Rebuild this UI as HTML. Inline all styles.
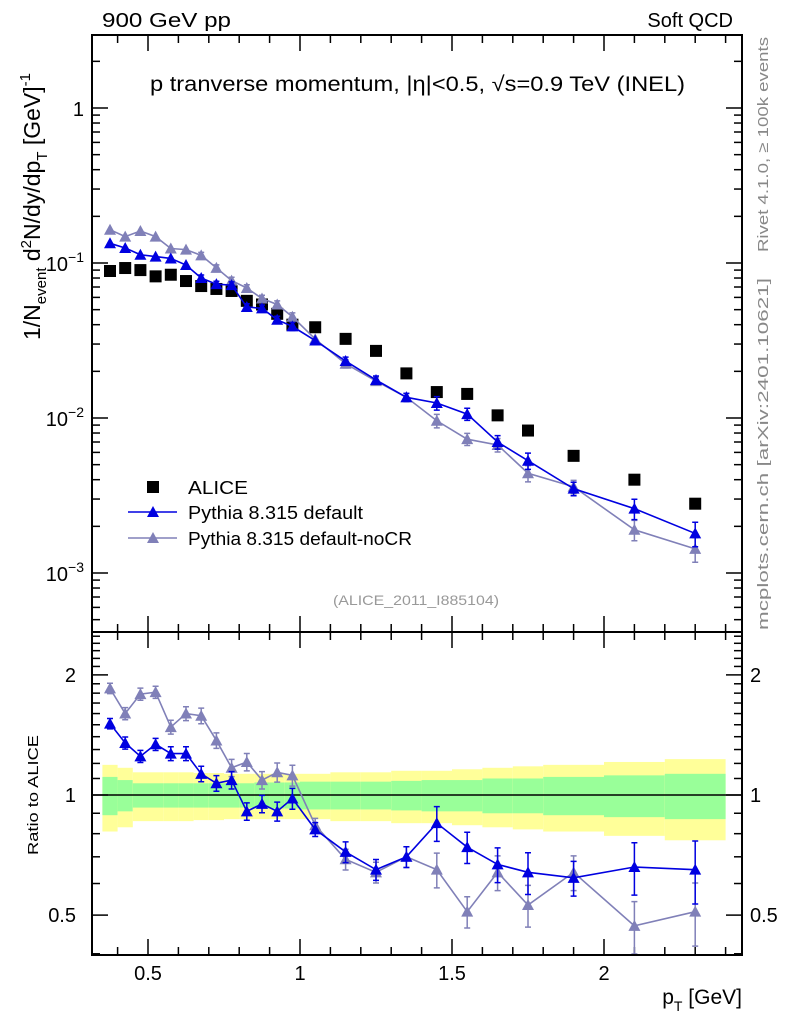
<!DOCTYPE html>
<html><head><meta charset="utf-8">
<style>
html,body{margin:0;padding:0;background:#fff;}
svg{display:block;font-family:"Liberation Sans","DejaVu Sans",sans-serif;}
</style></head>
<body>
<svg id="chart" width="786" height="1024" viewBox="0 0 786 1024" xmlns="http://www.w3.org/2000/svg">
<text x="102" y="27" font-size="20" textLength="129" lengthAdjust="spacingAndGlyphs">900 GeV pp</text>
<text x="733" y="27" font-size="20" text-anchor="end">Soft QCD</text>
<text x="150" y="91" font-size="21" textLength="535" lengthAdjust="spacingAndGlyphs">p tranverse momentum, |η|&lt;0.5, √s=0.9 TeV (INEL)</text>
<text x="333" y="605" font-size="14" fill="#999" textLength="166" lengthAdjust="spacingAndGlyphs">(ALICE_2011_I885104)</text>
<text transform="translate(768,252) rotate(-90)" font-size="15" fill="#888" textLength="215" lengthAdjust="spacingAndGlyphs">Rivet 4.1.0, ≥ 100k events</text>
<text transform="translate(768,630) rotate(-90)" font-size="15" fill="#888" textLength="352" lengthAdjust="spacingAndGlyphs">mcplots.cern.ch [arXiv:2401.10621]</text>
<text transform="translate(40,340) rotate(-90)" font-size="23">1/N<tspan font-size="15" dy="6">event</tspan><tspan dy="-6"> d</tspan><tspan font-size="15" dy="-9">2</tspan><tspan dy="9">N/dy/dp</tspan><tspan font-size="15" dy="7">T</tspan><tspan dy="-7"> [GeV]</tspan><tspan font-size="15" dy="-10">-1</tspan></text>
<text transform="translate(38,855) rotate(-90)" font-size="15" textLength="120" lengthAdjust="spacingAndGlyphs">Ratio to ALICE</text>
<text x="742" y="1004" font-size="21" text-anchor="end">p<tspan font-size="14" dy="7">T</tspan><tspan dy="-7"> [GeV]</tspan></text>
<g id="bands"></g>
<g id="ticks"></g>
<g id="marks"></g>
<g id="legend"></g>
<rect x="92" y="35" width="650" height="597" fill="none" stroke="#000" stroke-width="2"/>
<rect x="92" y="632" width="650" height="323" fill="none" stroke="#000" stroke-width="2"/>
</svg>
<script>
const xCenters=[0.375,0.425,0.475,0.525,0.575,0.625,0.675,0.725,0.775,0.825,0.875,0.925,0.975,1.05,1.15,1.25,1.35,1.45,1.55,1.65,1.75,1.9,2.1,2.3];
const binEdges=[0.35,0.4,0.45,0.5,0.55,0.6,0.65,0.7,0.75,0.8,0.85,0.9,0.95,1.0,1.1,1.2,1.3,1.4,1.5,1.6,1.7,1.8,2.0,2.2,2.4];
const alice=[0.0888,0.0928,0.090,0.082,0.084,0.0765,0.071,0.068,0.066,0.057,0.054,0.047,0.040,0.0385,0.0324,0.0271,0.0194,0.0147,0.0143,0.0104,0.0083,0.0057,0.0040,0.0028];
const pyDefault=[0.134,0.125,0.113,0.110,0.107,0.097,0.080,0.073,0.072,0.052,0.051,0.043,0.039,0.0316,0.0233,0.0176,0.0136,0.0125,0.0106,0.0070,0.0053,0.0035,0.0026,0.0018];
const pyNoCR=[0.164,0.148,0.161,0.148,0.124,0.122,0.112,0.093,0.077,0.069,0.059,0.054,0.045,0.0323,0.0224,0.0173,0.0136,0.0096,0.0073,0.0067,0.0044,0.0036,0.0019,0.00143];
const ratioDefault=[1.51,1.35,1.25,1.34,1.27,1.27,1.13,1.07,1.09,0.91,0.95,0.91,0.98,0.82,0.72,0.65,0.70,0.85,0.74,0.67,0.64,0.62,0.66,0.65];
const ratioNoCR=[1.85,1.60,1.79,1.81,1.48,1.60,1.58,1.37,1.17,1.21,1.09,1.14,1.12,0.84,0.69,0.64,0.70,0.65,0.51,0.64,0.53,0.64,0.47,0.51];
const mcRelErr=[0.03,0.035,0.035,0.035,0.04,0.04,0.045,0.045,0.05,0.05,0.05,0.055,0.06,0.04,0.06,0.06,0.06,0.1,0.09,0.1,0.12,0.1,0.15,0.18];
const totErr=[0.19,0.17,0.14,0.14,0.14,0.14,0.135,0.135,0.13,0.13,0.13,0.13,0.13,0.13,0.14,0.14,0.15,0.15,0.16,0.17,0.18,0.19,0.21,0.23];
const statErr=[0.11,0.09,0.07,0.07,0.07,0.07,0.07,0.07,0.07,0.07,0.075,0.075,0.075,0.08,0.08,0.08,0.085,0.09,0.09,0.1,0.1,0.11,0.12,0.13];
const mainTickLabels=["1","10","10","10"], mainTickExp=["","−1","−2","−3"], mainTickVals=[1,0.1,0.01,0.001];
const ratioTickVals=[2,1,0.5], ratioTickLabels=["2","1","0.5"];
const xTickVals=[0.5,1,1.5,2], xTickLabels=["0.5","1","1.5","2"];

const NS="http://www.w3.org/2000/svg";
const X=v=>300+(v-1)*304;
const Y=v=>108-Math.log10(v)*155;
const R=v=>795-Math.log10(v)*399;
function el(parent,tag,attrs){const e=document.createElementNS(NS,tag);for(const k in attrs)e.setAttribute(k,attrs[k]);document.getElementById(parent).appendChild(e);return e;}

for(let i=0;i<xCenters.length;i++){
  const x0=Math.max(X(binEdges[i]),93),x1=Math.min(X(binEdges[i+1]),741);
  let b=el('bands','rect',{x:x0,y:R(1+totErr[i]),width:x1-x0,height:R(1-totErr[i])-R(1+totErr[i]),fill:'#ffff99'});
  
  
  let g=el('bands','rect',{x:x0,y:R(1+statErr[i]),width:x1-x0,height:R(1-statErr[i])-R(1+statErr[i]),fill:'#99ff99'});
  
  
}
let ref=el('bands','line',{x1:92,x2:742,y1:R(1),y2:R(1),stroke:'#000','stroke-width':1.5});



function tk(x1,y1,x2,y2){const t=el('ticks','line',{x1,y1,x2,y2,stroke:'#000','stroke-width':1.5});}
for(let v=0.4;v<2.45;v+=0.1){const x=X(v);const major=Math.abs(v*2-Math.round(v*2))<1e-6;const L=major?16:8;
  tk(x,955,x,955-L);tk(x,632,x,632+L);tk(x,632,x,632-L);tk(x,35,x,35+L);}
for(let d=-4;d<1;d++){for(let m=1;m<10;m++){const v=m*Math.pow(10,d);const y=Y(v);if(y<36||y>631)continue;const L=m==1?16:8;tk(92,y,92+L,y);tk(742,y,742-L,y);}}
for(let v=0.4;v<2.6;v+=0.1){const y=R(v);if(y<633||y>954)continue;const major=[0.5,1,2].some(a=>Math.abs(a-v)<1e-6);const L=major?16:8;tk(92,y,92+L,y);tk(742,y,742-L,y);}
mainTickVals.forEach((v,i)=>{const t=el('ticks','text',{x:84,y:Y(v)+8,'font-size':20,'text-anchor':'end'});t.textContent=mainTickLabels[i];
  
  if(mainTickExp[i]){const s=document.createElementNS(NS,'tspan');s.setAttribute('font-size',14);s.setAttribute('dy',-9);s.textContent=mainTickExp[i];t.appendChild(s);}});
ratioTickVals.forEach((v,i)=>{const t=el('ticks','text',{x:76,y:R(v)+7,'font-size':20,'text-anchor':'end'});t.textContent=ratioTickLabels[i];
  
  const t2=el('ticks','text',{x:750,y:R(v)+7,'font-size':20});t2.textContent=ratioTickLabels[i];
  });
xTickVals.forEach((v,i)=>{const t=el('ticks','text',{x:X(v),y:980,'font-size':20,'text-anchor':'middle'});t.textContent=xTickLabels[i];
  });

function tri(x,y,col,name){const p=el('marks','polygon',{points:`${x},${y-6} ${x-6},${y+5} ${x+6},${y+5}`,fill:col});}
function series(vals,fy,col,name,errs,clipTop,clipBot){
  const pts=vals.map((v,i)=>[X(xCenters[i]),fy(v)]);
  const pl=el('marks','polyline',{points:pts.map(p=>p.join(',')).join(' '),fill:'none',stroke:col,'stroke-width':1.6});
  
  vals.forEach((v,i)=>{const x=pts[i][0];let y1=Math.max(fy(v*(1+errs[i])),clipTop),y2=Math.min(fy(v*(1-errs[i])),clipBot);
    if(y2-y1>6){const e=el('marks','path',{d:`M${x},${y1}V${y2}M${x-3},${y1}h6M${x-3},${y2}h6`,stroke:col,'stroke-width':1.5,fill:'none'});
      }
    tri(x,pts[i][1],col,name+'-point');});
}
alice.forEach((v,i)=>{const r=el('marks','rect',{x:X(xCenters[i])-6,y:Y(v)-6,width:12,height:12,fill:'#000'});
  });
series(pyNoCR,Y,'#8080b8','nocr-main',mcRelErr,36,631);
series(pyDefault,Y,'#0000e0','default-main',mcRelErr,36,631);
series(ratioNoCR,R,'#8080b8','nocr-ratio',mcRelErr,633,954);
series(ratioDefault,R,'#0000e0','default-ratio',mcRelErr,633,954);

let sq=el('legend','rect',{x:147,y:481,width:12,height:12,fill:'#000'});
[['ALICE',487,null,60],['Pythia 8.315 default',512,'#0000e0',175],['Pythia 8.315 default-noCR',538,'#8080b8',224]].forEach(([txt,y,col,w])=>{
  if(col){const l=el('legend','line',{x1:128,x2:177,y1:y,y2:y,stroke:col,'stroke-width':1.6});
    const p=el('legend','polygon',{points:`153,${y-6} 147,${y+5} 159,${y+5}`,fill:col});}
  const t=el('legend','text',{x:188,y:y+7,'font-size':18,textLength:w,lengthAdjust:'spacingAndGlyphs'});t.textContent=txt;});
</script>
</body></html>
